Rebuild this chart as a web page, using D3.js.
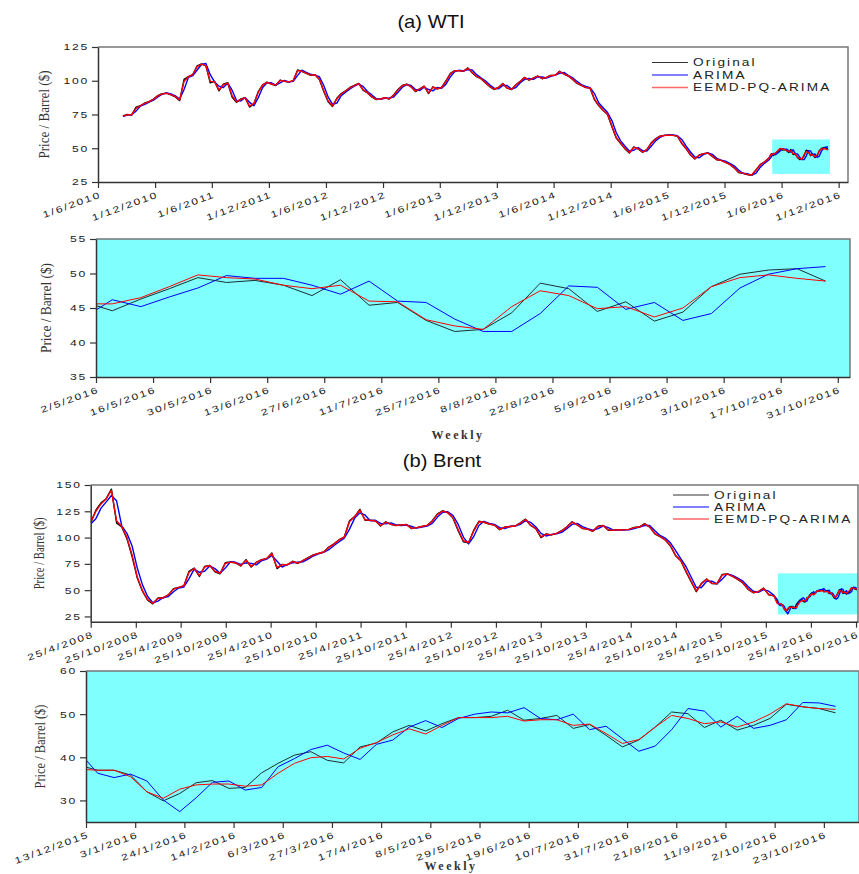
<!DOCTYPE html>
<html>
<head>
<meta charset="utf-8">
<script src="https://cdn.jsdelivr.net/npm/d3@7"></script>
<style>
  body { margin: 0; background: #fff; }
  svg text { font-family: "Liberation Sans", Arial, sans-serif; }
</style>
</head>
<body>
<div id="chart"></div>
<script>
// ---- WTI: biweekly values (Fridays from 20/8/2010), then weekly from 29/4/2016
var wtiStart = "20/8/2010", wtiStep = 14;
var wtiOriginal = [73.9, 75.0, 74.5, 80.5, 81.5, 83.5, 84.5, 86.5, 89.0, 90.5,
  90.8, 89.5, 88.0, 85.3, 101.0, 103.0, 104.5, 111.0, 112.5, 111.0,
  98.5, 99.5, 92.5, 97.5, 98.5, 88.0, 84.0, 86.5, 87.5, 80.5,
  83.0, 92.0, 97.0, 99.0, 97.5, 96.5, 100.5, 99.5, 99.0, 100.0,
  108.0, 107.0, 105.5, 104.0, 104.5, 101.0, 92.0, 84.5, 81.0, 87.0,
  90.5, 92.5, 95.0, 96.5, 98.0, 93.0, 91.0, 88.0, 86.0, 86.5,
  87.5, 86.5, 89.5, 93.5, 96.5, 97.5, 95.5, 92.0, 94.0, 96.0,
  90.5, 95.5, 94.0, 95.0, 100.0, 105.5, 107.5, 107.5, 107.0, 109.5,
  106.0, 103.0, 101.5, 98.5, 95.7, 93.5, 95.0, 98.0, 94.5, 93.5,
  97.0, 99.5, 102.5, 100.5, 102.0, 103.5, 101.5, 102.5, 104.0, 104.0,
  107.0, 105.0, 103.5, 101.0, 98.0, 96.5, 95.0, 94.5, 86.0, 81.5,
  78.0, 75.0, 65.9, 57.5, 53.5, 49.5, 46.5, 51.0, 49.5, 47.0,
  49.0, 54.0, 57.0, 59.0, 59.5, 59.7, 59.5, 59.0, 53.5, 49.5,
  45.0, 42.0, 45.0, 46.0, 46.5, 44.0, 41.5, 41.0, 39.5, 38.0,
  35.5, 32.0, 31.5, 30.5, 30.0, 34.0, 38.0, 40.0, 43.0];
var wtiArima = [73.5, 74.6, 75.0, 77.5, 81.2, 82.5, 84.2, 85.6, 88.0, 90.0,
  90.9, 90.2, 88.8, 86.5, 93.5, 102.5, 103.8, 108.0, 112.0, 112.8,
  104.5, 99.0, 96.0, 95.0, 98.2, 93.0, 85.5, 85.0, 87.5, 84.0,
  81.5, 87.5, 95.0, 98.5, 98.5, 96.8, 98.5, 100.2, 99.2, 99.5,
  104.0, 107.8, 106.2, 104.8, 104.2, 103.0, 96.5, 88.0, 82.5, 83.5,
  89.0, 91.5, 94.0, 96.0, 97.5, 95.8, 92.0, 89.5, 86.8, 86.2,
  87.0, 87.2, 88.0, 91.5, 95.2, 97.2, 96.5, 93.5, 92.8, 95.2,
  93.5, 92.5, 95.0, 94.5, 97.5, 103.0, 106.8, 107.8, 107.2, 108.2,
  108.0, 104.5, 102.2, 100.0, 97.0, 94.5, 94.0, 96.5, 96.5, 93.8,
  95.0, 98.5, 101.0, 101.8, 101.0, 102.8, 102.8, 102.0, 103.2, 104.2,
  105.5, 106.2, 104.0, 102.2, 99.5, 97.2, 95.8, 94.8, 90.5, 83.5,
  80.0, 76.5, 70.5, 61.5, 55.5, 51.5, 48.0, 48.5, 50.5, 48.2,
  48.0, 51.5, 55.5, 58.0, 59.5, 59.8, 59.8, 59.3, 56.5, 51.5,
  47.2, 43.5, 43.0, 45.5, 46.5, 45.5, 42.5, 41.2, 40.5, 38.8,
  37.0, 33.8, 31.5, 31.2, 30.0, 31.5, 36.0, 39.0, 41.5];
var wtiEemd = [73.8, 74.8, 74.8, 79.5, 81.5, 83.2, 84.5, 86.3, 88.8, 90.3,
  90.7, 89.7, 88.2, 85.8, 99.5, 103.0, 104.8, 110.5, 112.3, 111.2,
  99.5, 99.2, 93.2, 97.0, 98.3, 89.0, 84.5, 86.2, 87.3, 81.2,
  83.2, 91.5, 96.8, 98.8, 97.6, 96.8, 100.2, 99.6, 99.2, 100.2,
  107.5, 107.0, 105.6, 104.2, 104.4, 101.2, 92.8, 85.0, 81.5, 86.5,
  90.2, 92.4, 94.8, 96.4, 97.8, 93.5, 91.2, 88.2, 86.2, 86.5,
  87.4, 86.6, 89.2, 93.2, 96.3, 97.3, 95.6, 92.3, 93.9, 95.8,
  91.0, 95.2, 94.1, 95.0, 99.6, 105.2, 107.4, 107.5, 107.1, 109.2,
  106.3, 103.2, 101.6, 98.7, 95.9, 93.7, 95.0, 97.8, 94.7, 93.6,
  96.8, 99.4, 102.3, 100.7, 102.0, 103.4, 101.7, 102.5, 103.9, 104.0,
  106.8, 105.1, 103.6, 101.2, 98.2, 96.6, 95.1, 94.5, 86.5, 81.8,
  78.2, 75.2, 66.5, 58.0, 53.8, 49.8, 46.8, 50.6, 49.6, 47.2,
  49.0, 53.6, 56.8, 58.9, 59.4, 59.7, 59.5, 59.0, 53.9, 49.8,
  45.3, 42.3, 44.8, 46.0, 46.4, 44.2, 41.7, 41.0, 39.6, 38.1,
  35.7, 32.3, 31.6, 30.6, 30.2, 33.7, 37.8, 39.9, 42.8];

var wtiZoomStart = "29/4/2016", zoomStep = 7;
var wtiZoomOriginal = [45.9, 44.6, 46.3, 47.8, 49.4, 48.7, 49.0, 48.3, 46.8, 49.1,
  45.4, 45.8, 43.2, 41.6, 41.9, 44.3, 48.6, 47.8, 44.5, 45.9,
  43.1, 44.4, 48.1, 49.9, 50.5, 50.7, 48.9];
var wtiZoomArima = [43.6, 46.2, 45.2, 46.6, 47.9, 49.7, 49.3, 49.3, 48.3, 47.0,
  48.9, 46.0, 45.8, 43.4, 41.6, 41.6, 44.2, 48.2, 48.0, 44.8,
  45.8, 43.2, 44.2, 47.9, 49.9, 50.7, 51.0];
var wtiZoomEemd = [45.6, 45.6, 46.5, 48.1, 49.8, 49.4, 49.2, 48.3, 47.8, 48.3,
  46.0, 45.9, 43.3, 42.4, 41.9, 45.2, 47.5, 46.8, 44.9, 45.2,
  43.7, 45.0, 48.1, 49.4, 49.8, 49.3, 48.9];

// ---- Brent: 3-weekly values (Fridays from 25/4/2008), then weekly from 11/12/2015
var brentStart = "25/4/2008", brentStep = 21;
var brentOriginal = [114, 126, 133, 137, 146, 114, 110, 99, 82, 61.5,
  49, 40.5, 37, 42.5, 42.5, 45.5, 51.3, 52.5, 54, 68,
  71, 63, 72.5, 73.6, 67.5, 65.6, 76, 76.8, 76, 73,
  79, 72, 76.5, 79, 80, 85.4, 70.5, 74.5, 74, 77.5,
  75.5, 78, 81, 83.5, 85, 86.3, 91, 94, 98, 100.5,
  116, 120, 126.8, 116.5, 116.5, 116, 111, 115, 112.5, 111.5,
  112, 112.5, 108.5, 109.5, 110.6, 111.5, 116, 122.5, 125.5, 123.5,
  118.5, 106.5, 96, 95, 107, 115.5, 114.5, 112.8, 112, 107.5,
  110, 110.5, 111, 114, 117.5, 111.5, 108.5, 100, 103.5, 102.5,
  104, 106.5, 110.2, 115, 112, 108.6, 108, 106, 110.8, 111.5,
  107, 107, 107.5, 107.3, 107.8, 109.6, 110, 113.2, 110, 103.6,
  100.8, 97.7, 92, 82.7, 78, 67.5, 58, 48.5, 56.5, 60.6,
  56.3, 56, 65, 65.5, 63, 60.3, 56.8, 50.8, 47.5, 48.6,
  52, 45.5, 44.5];
var brentArima = [113, 118, 128, 134, 140, 135, 111, 104, 92, 71,
  55, 44, 38, 39.5, 43, 44, 48.5, 52, 53, 61,
  70, 67, 68, 73, 70.5, 66, 71, 77, 76.5, 74.5,
  76, 75.5, 74, 78, 79.5, 83, 77.5, 72, 74.5, 76,
  76.5, 77, 79.5, 82.5, 84.5, 86, 88.5, 92.5, 96, 99.5,
  108, 118.5, 123.5, 121.5, 116, 116.5, 113.5, 113, 114, 112,
  111.5, 112, 110.5, 109, 110, 111, 113.5, 119.5, 124, 124.5,
  121, 112.5, 100.5, 94, 101, 111.5, 115.5, 113.5, 112.5, 109.5,
  108.5, 110.5, 111, 112.5, 116, 114.5, 110, 104, 101.5, 103,
  103.5, 105, 108.5, 112.5, 113.5, 110.5, 108.5, 107, 108.5, 111,
  109.5, 107, 107.5, 107.5, 107.5, 108.5, 110, 111.5, 111.5, 106.5,
  102, 99.5, 95, 87.5, 80, 72.5, 62.5, 52.5, 52.5, 58.5,
  58.5, 56, 60.5, 65.5, 64, 61.5, 58.5, 53.5, 49, 48,
  50.5, 49, 45];
var brentEemd = [114.5, 125, 132, 137, 145, 116, 110.5, 100, 83.5, 62.5,
  49.5, 41, 37.5, 42, 42.8, 45.5, 51, 52.6, 54.2, 67,
  70.6, 63.8, 72, 73.4, 68, 66, 75.5, 76.6, 76, 73.4,
  78.5, 72.5, 76.3, 78.8, 80.2, 84.8, 71.5, 74.2, 74.2, 77.2,
  75.8, 78, 80.8, 83.3, 84.9, 86.3, 90.6, 93.8, 97.8, 100.6,
  115, 120, 126, 117, 116.4, 115.8, 111.4, 114.6, 112.6, 111.6,
  111.9, 112.3, 108.8, 109.5, 110.5, 111.6, 115.6, 122, 125.2, 123.6,
  118.8, 107.5, 97, 95.3, 106.2, 115, 114.6, 112.9, 111.9, 107.8,
  109.8, 110.5, 111, 113.8, 117.2, 111.8, 108.6, 100.6, 103.2, 102.6,
  104, 106.4, 110, 114.6, 112.2, 108.8, 108, 106.2, 110.4, 111.4,
  107.3, 107, 107.4, 107.3, 107.8, 109.5, 110, 112.9, 110.2, 104,
  101, 97.9, 92.5, 83.3, 78.3, 68.3, 58.7, 49.3, 56, 60.3,
  56.5, 56.2, 64.4, 65.4, 63.2, 60.5, 57, 51.2, 47.8, 48.5,
  51.7, 45.8, 44.6];

var brentZoomStart = "11/12/2015";
var brentZoomOriginal = [38.0, 37.0, 37.0, 35.9, 32.0, 29.9, 31.6, 34.1, 34.6, 32.8,
  33.0, 36.4, 38.6, 40.5, 41.3, 39.3, 38.7, 42.4, 43.3, 45.9,
  47.4, 46.1, 47.8, 49.2, 49.2, 49.5, 50.9, 48.6, 49.0, 49.7,
  46.7, 47.6, 45.1, 42.4, 44.0, 47.0, 50.5, 50.1, 46.9, 48.6,
  46.3, 47.4, 49.0, 52.3, 51.7, 51.3, 50.3];
var brentZoomArima = [40.6, 36.3, 35.3, 36.1, 34.5, 30.1, 27.4, 30.6, 34.2, 34.5,
  32.4, 33.0, 37.8, 39.7, 41.8, 42.8, 41.0, 39.5, 43.0, 44.0,
  47.0, 48.5, 46.9, 49.0, 50.0, 50.5, 50.3, 51.5, 49.0, 48.7,
  50.0, 46.4, 47.2, 44.3, 41.4, 42.6, 46.4, 51.3, 50.7, 47.0,
  49.5, 46.7, 47.4, 48.7, 52.7, 52.6, 51.8];
var brentZoomEemd = [37.2, 37.0, 37.0, 35.5, 32.0, 30.5, 32.6, 33.6, 33.8, 33.8,
  33.3, 33.6, 36.3, 38.6, 39.9, 40.2, 39.6, 42.1, 43.4, 45.2,
  46.6, 45.4, 47.4, 49.2, 49.2, 49.2, 49.5, 48.4, 48.7, 48.7,
  47.4, 47.7, 45.5, 43.2, 44.1, 47.0, 49.7, 49.0, 47.8, 48.2,
  47.0, 48.2, 50.0, 52.4, 51.7, 51.3, 51.1];

// ---- tick labels
var wtiTicks = ["1/6/2010", "1/12/2010", "1/6/2011", "1/12/2011", "1/6/2012", "1/12/2012", "1/6/2013",
  "1/12/2013", "1/6/2014", "1/12/2014", "1/6/2015", "1/12/2015", "1/6/2016", "1/12/2016"];
var wtiZoomTicks = ["2/5/2016", "16/5/2016", "30/5/2016", "13/6/2016", "27/6/2016", "11/7/2016", "25/7/2016",
  "8/8/2016", "22/8/2016", "5/9/2016", "19/9/2016", "3/10/2016", "17/10/2016", "31/10/2016"];
var brentTicks = ["25/4/2008", "25/10/2008", "25/4/2009", "25/10/2009", "25/4/2010", "25/10/2010",
  "25/4/2011", "25/10/2011", "25/4/2012", "25/10/2012", "25/4/2013", "25/10/2013", "25/4/2014",
  "25/10/2014", "25/4/2015", "25/10/2015", "25/4/2016", "25/10/2016"];
var brentZoomTicks = ["13/12/2015", "3/1/2016", "24/1/2016", "14/2/2016", "6/3/2016", "27/3/2016", "17/4/2016",
  "8/5/2016", "29/5/2016", "19/6/2016", "10/7/2016", "31/7/2016", "21/8/2016", "11/9/2016",
  "2/10/2016", "23/10/2016"];

var seriesNames = ["Original", "ARIMA", "EEMD-PQ-ARIMA"];
var seriesColors = ["#000000", "#0000ff", "#ff0000"];

var parseDate = d3.timeParse("%d/%m/%Y");

function toPoints(start, step, values) {
  var s = parseDate(start);
  return values.map(function(v, i) {
    return { date: d3.timeDay.offset(s, i * step), value: v };
  });
}

var svg = d3.select("#chart").append("svg")
  .attr("width", 859)
  .attr("height", 874);

function drawPanel(p) {
  var g = svg.append("g");
  var x = d3.scaleTime().domain(p.xDomain.map(parseDate)).range([p.left, p.right]);
  var y = d3.scaleLinear().domain(p.yDomain).range([p.bottom, p.top]);

  svg.append("clipPath").attr("id", "clip-" + p.id)
    .append("rect")
    .attr("x", p.left).attr("y", p.top)
    .attr("width", p.right - p.left).attr("height", p.bottom - p.top);

  var plot = g.append("g").attr("clip-path", "url(#clip-" + p.id + ")");

  if (p.fill) {
    plot.append("rect")
      .attr("x", p.left).attr("y", p.top)
      .attr("width", p.right - p.left).attr("height", p.bottom - p.top)
      .attr("fill", "#80ffff");
  }
  if (p.highlight) {
    var h = p.highlight;
    plot.append("rect")
      .attr("x", x(parseDate(h.x0)))
      .attr("y", y(h.y1))
      .attr("width", x(parseDate(h.x1)) - x(parseDate(h.x0)))
      .attr("height", y(h.y0) - y(h.y1))
      .attr("fill", "#80ffff");
  }

  var line = d3.line()
    .x(function(d) { return x(d.date); })
    .y(function(d) { return y(d.value); });

  p.series.forEach(function(s, i) {
    plot.append("path")
      .datum(s)
      .attr("fill", "none")
      .attr("stroke", i === 0 ? p.blackColor : seriesColors[i])
      .attr("stroke-width", p.lineWidth)
      .attr("stroke-linejoin", "round")
      .attr("d", line);
  });

  // top and right frame
  g.append("path")
    .attr("d", "M" + p.left + "," + p.top + "H" + p.right + "V" + p.bottom)
    .attr("fill", "none")
    .attr("stroke", "#777")
    .attr("stroke-width", 1.5);

  var yAxis = g.append("g")
    .attr("transform", "translate(" + p.left + ",0)")
    .call(d3.axisLeft(y).tickValues(p.yTicks).tickSize(6).tickSizeOuter(0));
  var xAxis = g.append("g")
    .attr("transform", "translate(0," + p.bottom + ")")
    .call(d3.axisBottom(x)
      .tickValues(p.xTicks.map(parseDate))
      .tickFormat(function(d, i) { return p.xTicks[i]; })
      .tickSize(6).tickSizeOuter(0));

  [yAxis, xAxis].forEach(function(a) {
    a.select(".domain").attr("stroke", "#333").attr("stroke-width", 1.5);
    a.selectAll(".tick line").attr("stroke", "#333").attr("stroke-width", 1.2);
    a.selectAll("text")
      .attr("fill", "#222")
      .style("font-size", "9px")
      .style("letter-spacing", "1.3px");
  });
  yAxis.selectAll("text")
    .attr("x", -9 / 1.35)
    .attr("transform", "scale(1.35,1)");
  xAxis.selectAll("text")
    .attr("x", 0).attr("y", 0).attr("dy", "0.72em")
    .attr("text-anchor", "end")
    .attr("transform", "translate(1,9) rotate(-20) scale(1.35,1)");

  // y axis title
  g.append("text")
    .attr("transform", "translate(" + p.yTitleX + "," + ((p.top + p.bottom) / 2) + ") rotate(-90)")
    .attr("text-anchor", "middle")
    .attr("textLength", p.yTitleLen)
    .attr("lengthAdjust", "spacingAndGlyphs")
    .style("font-family", "'Liberation Serif', 'Times New Roman', serif")
    .style("font-size", "14px")
    .attr("fill", "#333")
    .text("Price / Barrel ($)");

  if (p.legend) {
    var lg = g.append("g");
    seriesNames.forEach(function(name, i) {
      var ly = p.legend.y + i * p.legend.dy;
      lg.append("line")
        .attr("x1", p.legend.x).attr("x2", p.legend.x + 36)
        .attr("y1", ly).attr("y2", ly)
        .attr("stroke", i === 0 ? "#333" : (i === 1 ? "#0000ff" : "#ff6666"))
        .attr("stroke-width", i === 2 ? 1.6 : 1.2);
      lg.append("text")
        .attr("transform", "translate(" + (p.legend.x + 41) + "," + (ly + 3.5) + ") scale(1.3,1)")
        .style("font-size", "10.5px")
        .style("letter-spacing", "1.6px")
        .attr("fill", "#222")
        .text(name);
    });
  }

  if (p.xTitleY) {
    g.append("text")
      .attr("x", p.xTitleX).attr("y", p.xTitleY)
      .attr("text-anchor", "middle")
      .style("font-family", "'Liberation Serif', 'Times New Roman', serif")
      .style("font-weight", "bold")
      .style("font-size", "12px")
      .style("letter-spacing", "2.5px")
      .attr("fill", "#333")
      .text("Weekly");
  }
}

// panel (a) WTI overview
drawPanel({
  id: "wti", left: 98, right: 848, top: 47, bottom: 182,
  xDomain: ["1/6/2010", "31/12/2016"], yDomain: [25, 125], yTicks: [25, 50, 75, 100, 125],
  xTicks: wtiTicks,
  series: [
    toPoints(wtiStart, wtiStep, wtiOriginal).concat(toPoints(wtiZoomStart, zoomStep, wtiZoomOriginal)),
    toPoints(wtiStart, wtiStep, wtiArima).concat(toPoints(wtiZoomStart, zoomStep, wtiZoomArima)),
    toPoints(wtiStart, wtiStep, wtiEemd).concat(toPoints(wtiZoomStart, zoomStep, wtiZoomEemd))
  ],
  lineWidth: 1.4, blackColor: "#000",
  highlight: { x0: "2/5/2016", x1: "3/11/2016", y0: 31, y1: 56.5 },
  yTitleX: 49, yTitleLen: 88,
  legend: { x: 652, y: 62.5, dy: 12.5 }
});

// WTI zoom
drawPanel({
  id: "wtiz", left: 96, right: 850, top: 239, bottom: 377,
  xDomain: ["2/5/2016", "3/11/2016"], yDomain: [35, 55], yTicks: [35, 40, 45, 50, 55],
  xTicks: wtiZoomTicks,
  series: [
    toPoints(wtiZoomStart, zoomStep, wtiZoomOriginal),
    toPoints(wtiZoomStart, zoomStep, wtiZoomArima),
    toPoints(wtiZoomStart, zoomStep, wtiZoomEemd)
  ],
  lineWidth: 1, blackColor: "#1c3030", fill: true,
  yTitleX: 51, yTitleLen: 90,
  xTitleX: 458, xTitleY: 439
});

// panel (b) Brent overview
drawPanel({
  id: "brent", left: 90.7, right: 858, top: 485, bottom: 621.7,
  xDomain: ["25/4/2008", "2/11/2016"], yDomain: [20, 150], yTicks: [25, 50, 75, 100, 125, 150],
  xTicks: brentTicks,
  series: [
    toPoints(brentStart, brentStep, brentOriginal).concat(toPoints(brentZoomStart, zoomStep, brentZoomOriginal)),
    toPoints(brentStart, brentStep, brentArima).concat(toPoints(brentZoomStart, zoomStep, brentZoomArima)),
    toPoints(brentStart, brentStep, brentEemd).concat(toPoints(brentZoomStart, zoomStep, brentZoomEemd))
  ],
  lineWidth: 1.4, blackColor: "#000",
  highlight: { x0: "13/12/2015", x1: "7/11/2016", y0: 27, y1: 66 },
  yTitleX: 44, yTitleLen: 72,
  legend: { x: 673, y: 495, dy: 12 }
});

// Brent zoom
drawPanel({
  id: "brentz", left: 86, right: 859, top: 671, bottom: 822,
  xDomain: ["13/12/2015", "7/11/2016"], yDomain: [25, 60], yTicks: [30, 40, 50, 60],
  xTicks: brentZoomTicks,
  series: [
    toPoints(brentZoomStart, zoomStep, brentZoomOriginal),
    toPoints(brentZoomStart, zoomStep, brentZoomArima),
    toPoints(brentZoomStart, zoomStep, brentZoomEemd)
  ],
  lineWidth: 1, blackColor: "#1c3030", fill: true,
  yTitleX: 45, yTitleLen: 84,
  xTitleX: 451, xTitleY: 870
});

// panel titles
svg.append("text")
  .attr("transform", "translate(431,28) scale(1.12,1)")
  .attr("text-anchor", "middle")
  .style("font-size", "18px")
  .attr("fill", "#111")
  .text("(a) WTI");
svg.append("text")
  .attr("transform", "translate(442,467) scale(1.12,1)")
  .attr("text-anchor", "middle")
  .style("font-size", "18px")
  .attr("fill", "#111")
  .text("(b) Brent");
</script>
</body>
</html>
